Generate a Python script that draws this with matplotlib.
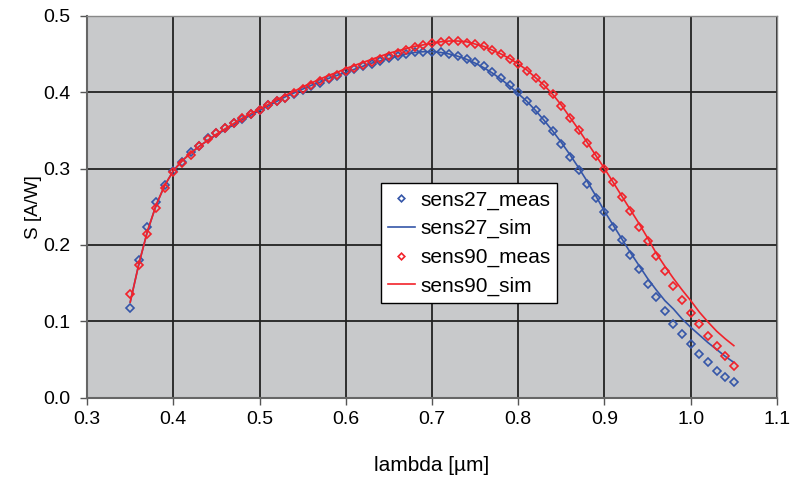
import numpy as np
import matplotlib
matplotlib.use("Agg")
from matplotlib import pyplot as plt

plt.rcParams['font.family'] = ['Liberation Sans', 'DejaVu Sans']

# wavelength grid of the measurement [um]
lam = np.round(np.arange(0.35, 1.0501, 0.01), 2)

sens27_meas = [0.117, 0.180, 0.224, 0.256, 0.278, 0.297, 0.309, 0.321, 0.330, 0.340,
               0.347, 0.353, 0.359, 0.365, 0.371, 0.377, 0.383, 0.388, 0.393, 0.398,
               0.403, 0.408, 0.412, 0.417, 0.421, 0.426, 0.430, 0.434, 0.437, 0.441,
               0.445, 0.448, 0.450, 0.452, 0.453, 0.453, 0.452, 0.450, 0.448, 0.444,
               0.439, 0.434, 0.427, 0.419, 0.410, 0.400, 0.388, 0.376, 0.363, 0.349,
               0.332, 0.315, 0.298, 0.280, 0.262, 0.243, 0.224, 0.206, 0.187, 0.168,
               0.149, 0.132, 0.114, 0.097, 0.083, 0.070, 0.057, 0.046, 0.035, 0.027,
               0.020]

sens27_sim = [0.125, 0.175, 0.218, 0.252, 0.278, 0.297, 0.310, 0.320, 0.329, 0.337,
              0.344, 0.351, 0.357, 0.364, 0.370, 0.376, 0.382, 0.388, 0.394, 0.399,
              0.404, 0.409, 0.413, 0.418, 0.422, 0.426, 0.430, 0.434, 0.438, 0.441,
              0.444, 0.447, 0.450, 0.452, 0.453, 0.453, 0.452, 0.450, 0.447, 0.443,
              0.438, 0.432, 0.425, 0.417, 0.408, 0.398, 0.388, 0.376, 0.363, 0.349,
              0.334, 0.318, 0.301, 0.283, 0.264, 0.244, 0.226, 0.208, 0.190, 0.173,
              0.156, 0.141, 0.127, 0.116, 0.103, 0.092, 0.082, 0.072, 0.063, 0.054,
              0.046]

sens90_meas = [0.136, 0.174, 0.214, 0.248, 0.274, 0.296, 0.307, 0.318, 0.330, 0.338,
               0.346, 0.353, 0.359, 0.366, 0.372, 0.377, 0.383, 0.388, 0.393, 0.399,
               0.404, 0.409, 0.414, 0.419, 0.423, 0.428, 0.432, 0.436, 0.440, 0.444,
               0.448, 0.451, 0.455, 0.459, 0.462, 0.465, 0.466, 0.467, 0.467, 0.465,
               0.463, 0.460, 0.455, 0.450, 0.444, 0.437, 0.428, 0.419, 0.409, 0.397,
               0.382, 0.366, 0.350, 0.334, 0.317, 0.300, 0.282, 0.263, 0.244, 0.224,
               0.205, 0.185, 0.166, 0.146, 0.128, 0.111, 0.096, 0.081, 0.067, 0.054,
               0.042]

sens90_sim = [0.125, 0.175, 0.218, 0.252, 0.278, 0.297, 0.310, 0.320, 0.329, 0.337,
              0.345, 0.352, 0.359, 0.366, 0.372, 0.378, 0.384, 0.390, 0.396, 0.401,
              0.407, 0.412, 0.417, 0.422, 0.426, 0.431, 0.435, 0.439, 0.443, 0.447,
              0.451, 0.454, 0.457, 0.460, 0.462, 0.464, 0.466, 0.467, 0.467, 0.466,
              0.463, 0.460, 0.455, 0.450, 0.444, 0.437, 0.429, 0.419, 0.409, 0.397,
              0.383, 0.367, 0.351, 0.334, 0.317, 0.300, 0.282, 0.264, 0.246, 0.228,
              0.209, 0.189, 0.172, 0.156, 0.141, 0.127, 0.112, 0.099, 0.087, 0.077,
              0.068]

xticks = [0.3, 0.4, 0.5, 0.6, 0.7, 0.8, 0.9, 1.0, 1.1]
yticks = [0.0, 0.1, 0.2, 0.3, 0.4, 0.5]

blue = '#3556A8'
red = '#F2222A'

fig = plt.figure(figsize=(7.92, 4.79), dpi=100)
ax = fig.add_axes([0.110, 0.170, 0.871, 0.797])
ax.set_facecolor('#C8C9CB')

ax.plot(lam, sens27_meas, linestyle='none', marker='D', markersize=4.5,
        markerfacecolor='none', markeredgecolor=blue, markeredgewidth=1.2,
        label='sens27_meas', zorder=3)
ax.plot(lam, sens27_sim, color=blue, linewidth=1.2, label='sens27_sim', zorder=3)
ax.plot(lam, sens90_meas, linestyle='none', marker='D', markersize=4.5,
        markerfacecolor='none', markeredgecolor=red, markeredgewidth=1.2,
        label='sens90_meas', zorder=4)
ax.plot(lam, sens90_sim, color=red, linewidth=1.2, label='sens90_sim', zorder=4)

ax.set_xlim(0.3, 1.1)
ax.set_ylim(0.0, 0.5)
ax.set_xticks(xticks)
ax.set_yticks(yticks)
ax.set_xticklabels(['%.1f' % v for v in xticks])
ax.set_yticklabels(['%.1f' % v for v in yticks])
ax.grid(True, color='#222222', linewidth=1.3)
ax.set_axisbelow(True)
ax.tick_params(labelsize=14, length=5, width=1, color='#555555', direction='out')
ax.tick_params(axis='x', pad=5)
ax.tick_params(axis='y', pad=7)

for side in ['left', 'bottom']:
    ax.spines[side].set_color('#666666')
    ax.spines[side].set_linewidth(1.5)
for side in ['top', 'right']:
    ax.spines[side].set_color('#888888')
    ax.spines[side].set_linewidth(1.0)

ax.set_xlabel('lambda [µm]', fontsize=15, labelpad=20)
ax.set_ylabel('S [A/W]', fontsize=13.5, labelpad=1)

leg = ax.legend(loc='lower left', bbox_to_anchor=(0.426, 0.248), numpoints=1,
                fontsize=15, frameon=True, fancybox=False, framealpha=1,
                edgecolor='black', handlelength=1.28, handletextpad=0.27,
                borderpad=0.33, labelspacing=0.46, borderaxespad=0,
                markerscale=0.75)
leg.get_frame().set_linewidth(1.0)

fig.savefig('out.png', dpi=100)
